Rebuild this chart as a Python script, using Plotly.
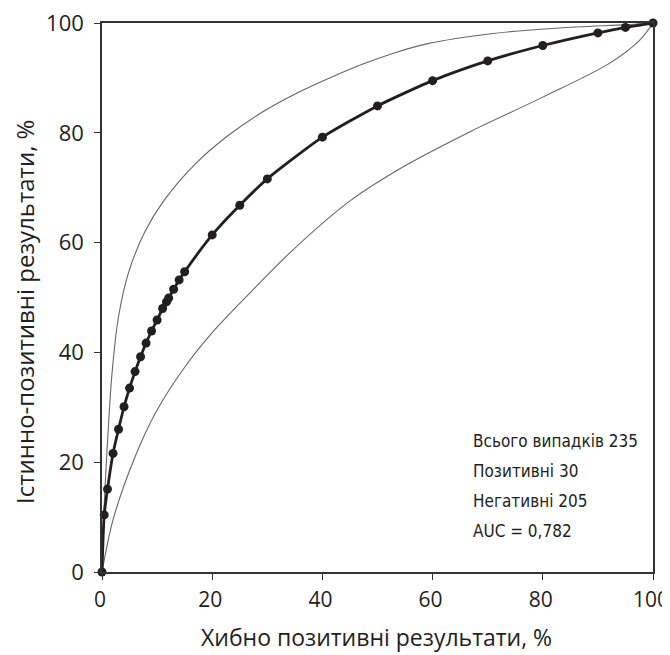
import plotly.graph_objects as go

# ROC curve points (false positive %, true positive %)
fpr = [0, 0.4, 1, 2, 3, 4, 5, 6, 7, 8, 9, 10, 11, 11.7, 12.1, 13, 14, 15,
       20, 25, 30, 40, 50, 60, 70, 80, 90, 95, 100]
tpr = [0, 10.4, 15.1, 21.6, 26.0, 30.1, 33.5, 36.5, 39.2, 41.7, 43.9, 45.9, 48.0, 49.2, 49.9, 51.5, 53.2, 54.7,
       61.4, 66.8, 71.6, 79.2, 84.9, 89.5, 93.1, 95.9, 98.2, 99.2, 100]

# Upper confidence bound
upper_x = [0, 0.3, 0.85, 1.8, 3, 4.8, 7.8, 11.2, 16.9, 22.9, 29.5, 35.5, 41.1, 47, 53.2, 58.9, 71, 83.1, 95.2, 100]
upper_y = [0, 10, 21, 36, 46.5, 54.5, 62, 67.6, 74.3, 79.5, 84, 87.3, 89.9, 92.4, 94.6, 96.2, 98.1, 99.1, 99.7, 100]

# Lower confidence bound
lower_x = [0, 2, 6, 10, 15, 20, 27, 35, 45, 55, 67, 80, 92, 97.6, 100]
lower_y = [0, 9.5, 21, 29.5, 37.3, 43.6, 51, 59, 67.6, 74, 80.3, 86.5, 92.6, 96.9, 100]

tick_vals = [0, 20, 40, 60, 80, 100]
info_lines = ["Всього випадків 235", "Позитивні 30", "Негативні 205", "AUC = 0,782"]
x_title = "Хибно позитивні результати, %"
y_title = "Істинно-позитивні результати, %"

INK = "#231f20"
MAIN_FONT = "Open Sans, Noto Sans, sans-serif"

fig = go.Figure()
fig.add_trace(go.Scatter(x=upper_x, y=upper_y, mode="lines",
                         line=dict(color="#666666", width=1.1, shape="spline", smoothing=0.8),
                         showlegend=False, hoverinfo="skip"))
fig.add_trace(go.Scatter(x=lower_x, y=lower_y, mode="lines",
                         line=dict(color="#666666", width=1.1, shape="spline", smoothing=0.9),
                         showlegend=False, hoverinfo="skip"))
fig.add_trace(go.Scatter(x=fpr, y=tpr, mode="lines+markers",
                         line=dict(color=INK, width=2.8, shape="spline", smoothing=0.6),
                         marker=dict(color=INK, size=9),
                         showlegend=False, cliponaxis=False))

for i, t in enumerate(info_lines):
    fig.add_annotation(x=66.9, y=23.9 - i * 5.45, xref="x", yref="y", text=t, showarrow=False,
                       xanchor="left", yanchor="middle",
                       font=dict(family="DejaVu Sans Condensed, Liberation Sans Narrow, Arial Narrow, sans-serif",
                                 size=17, color=INK))

fig.add_annotation(x=(376.5 - 102) / 551, y=(572 - 637) / 549, xref="paper", yref="paper",
                   text=x_title, showarrow=False, xanchor="center", yanchor="middle",
                   font=dict(family=MAIN_FONT, size=23, color=INK))
fig.add_annotation(x=(24 - 102) / 551, y=(572 - 312) / 549, xref="paper", yref="paper",
                   text=y_title, showarrow=False, xanchor="center", yanchor="middle", textangle=-90,
                   font=dict(family=MAIN_FONT, size=24, color=INK))

axis_common = dict(range=[0, 100], tickvals=tick_vals, ticks="outside", ticklen=6, tickwidth=1.3,
                   tickcolor="#333333", showline=True, linecolor="#333333", linewidth=1.6,
                   mirror=True, showgrid=False, zeroline=False, automargin=False,
                   ticklabeloverflow="allow")

fig.update_xaxes(**axis_common, ticklabelstandoff=2, ticklabelshift=-2,
                 tickfont=dict(family=MAIN_FONT, size=21, color=INK))
fig.update_yaxes(**axis_common, ticklabelstandoff=6,
                 tickfont=dict(family=MAIN_FONT, size=22, color=INK))

# the page body adds an 8px margin, so the figure is drawn 8px smaller and the margins shifted
fig.update_layout(width=662, height=647, margin=dict(l=94, r=17, t=15, b=83),
                  plot_bgcolor="white", paper_bgcolor="white")

fig.write_html("out.html")
